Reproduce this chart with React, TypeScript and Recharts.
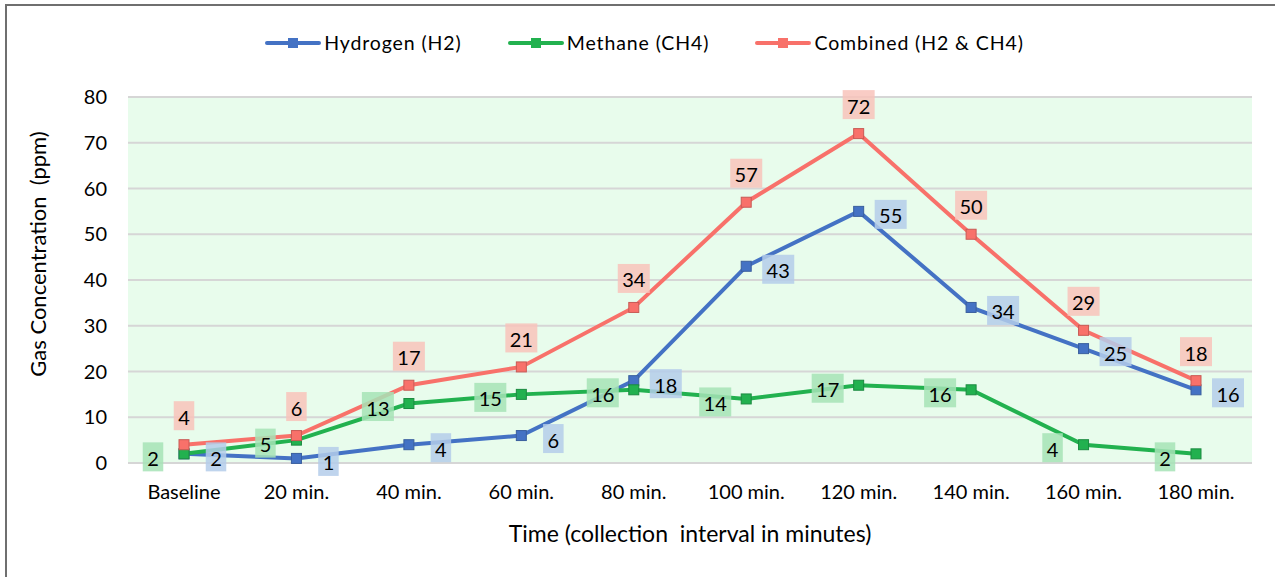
import React from 'react';
import { LineChart, Line, XAxis, YAxis, CartesianGrid, Legend, LabelList } from 'recharts';

const categories = ['Baseline', '20 min.', '40 min.', '60 min.', '80 min.', '100 min.', '120 min.', '140 min.', '160 min.', '180 min.'];
const hydrogen = [2, 1, 4, 6, 18, 43, 55, 34, 25, 16];
const methane = [2, 5, 13, 15, 16, 14, 17, 16, 4, 2];
const combined = [4, 6, 17, 21, 34, 57, 72, 50, 29, 18];
const yTicks = [0, 10, 20, 30, 40, 50, 60, 70, 80];

const data = categories.map((c, i) => ({ cat: c, h2: hydrogen[i], ch4: methane[i], comb: combined[i] }));

const FONT = 'Lato, "Open Sans", sans-serif';
const BLUE = '#4472c4';
const GREEN = '#22b14f';
const RED = '#f8716a';

const SquareDot = (color: string, stroke: string) => (props: any) => {
  const { cx, cy, index } = props;
  if (cx == null || cy == null) return null;
  return <rect key={index} x={cx - 5} y={cy - 5} width={10} height={10} fill={color} stroke={stroke} strokeWidth={1} />;
};

const BoxLabel = (bg: string, dx: number, dy: number) => (props: any) => {
  const { x, y, value, index } = props;
  if (x == null || y == null) return null;
  const s = String(value);
  const w = s.length * 11.5 + 9;
  const h = 29;
  const cx = x + dx;
  const cy = y + dy;
  return (
    <g key={index}>
      <rect x={cx - w / 2} y={cy - h / 2} width={w} height={h} fill={bg} opacity={0.85} />
      <text x={cx} y={cy + 1} textAnchor="middle" dominantBaseline="central" fontFamily={FONT} fontSize={20} fill="#000">{s}</text>
    </g>
  );
};

const YTitle = (props: any) => {
  const vb = props.viewBox || {};
  const x = (vb.x ?? 0) + 37;
  const y = (vb.y ?? 0) + (vb.height ?? 0) / 2 - 26;
  return (
    <text x={x} y={y} transform={`rotate(-90, ${x}, ${y})`} textAnchor="middle" dominantBaseline="central" fontFamily={FONT} fontSize={22} fill="#000">
      {'Gas Concentration\u00a0\u00a0(ppm)'}
    </text>
  );
};

const legendItems = [
  { name: 'Hydrogen (H2)', color: BLUE },
  { name: 'Methane (CH4)', color: GREEN },
  { name: 'Combined (H2 & CH4)', color: RED },
];

const LegendContent = () => (
  <div style={{ display: 'flex', justifyContent: 'center', gap: 46, fontFamily: FONT, fontSize: 19.5, letterSpacing: 0.9, color: '#000', marginLeft: 14 }}>
    {legendItems.map((it) => (
      <div key={it.name} style={{ display: 'flex', alignItems: 'center' }}>
        <svg width={56} height={12} style={{ marginRight: 3 }}>
          <line x1={2} y1={6} x2={54} y2={6} stroke={it.color} strokeWidth={4} strokeLinecap="round" />
          <rect x={23} y={1} width={10} height={10} fill={it.color} />
        </svg>
        <span>{it.name}</span>
      </div>
    ))}
  </div>
);

export default function App() {
  return (
    <div style={{ position: 'absolute', left: 0, top: 0, width: 1275, height: 577, background: '#fff', overflow: 'hidden' }}>
      <div style={{ position: 'absolute', left: 5, top: 4, width: 1300, height: 620, border: '2px solid #6f6f6f', boxSizing: 'border-box' }} />
      <div style={{ position: 'absolute', left: 0, top: 0 }}>
        <LineChart width={1275} height={577} data={data} margin={{ top: 74, right: 23, left: 0, bottom: 0 }}>
          <CartesianGrid vertical={false} stroke="#d6d6d6" strokeWidth={2} fill="#e8fcec" fillOpacity={1} />
          <XAxis
            dataKey="cat"
            height={114}
            padding={{ left: 56, right: 56 }}
            axisLine={false}
            tickLine={false}
            tickSize={0}
            tickMargin={22}
            interval={0}
            tick={{ fontFamily: FONT, fontSize: 20, fill: '#000' }}
            label={{ value: 'Time (collection\u00a0\u00a0interval in minutes)', position: 'insideTop', offset: 63, style: { fontFamily: FONT, fontSize: 23, fill: '#000' } }}
          />
          <YAxis
            width={128}
            domain={[0, 80]}
            ticks={yTicks}
            axisLine={false}
            tickLine={false}
            tickSize={0}
            tickMargin={21}
            tick={{ fontFamily: FONT, fontSize: 20, fill: '#000' }}
            label={<YTitle />}
          />
          <Legend verticalAlign="top" content={<LegendContent />} wrapperStyle={{ top: 31, left: 0, width: 1275 }} />
          <Line dataKey="h2" name="Hydrogen (H2)" stroke={BLUE} strokeWidth={4} dot={SquareDot(BLUE, '#3a5f9e')} activeDot={false} isAnimationActive={false} />
          <Line dataKey="ch4" name="Methane (CH4)" stroke={GREEN} strokeWidth={4} dot={SquareDot(GREEN, '#1b8a40')} activeDot={false} isAnimationActive={false} />
          <Line dataKey="comb" name="Combined (H2 & CH4)" stroke={RED} strokeWidth={4} dot={SquareDot(RED, '#c85a55')} activeDot={false} isAnimationActive={false} />
          <Line dataKey="h2" legendType="none" stroke="none" dot={false} activeDot={false} isAnimationActive={false}>
            <LabelList dataKey="h2" content={BoxLabel('#b4cdea', 32, 3)} />
          </Line>
          <Line dataKey="ch4" legendType="none" stroke="none" dot={false} activeDot={false} isAnimationActive={false}>
            <LabelList dataKey="ch4" content={BoxLabel('#a6e3b6', -31, 3)} />
          </Line>
          <Line dataKey="comb" legendType="none" stroke="none" dot={false} activeDot={false} isAnimationActive={false}>
            <LabelList dataKey="comb" content={BoxLabel('#f8c3bb', 0, -29)} />
          </Line>
        </LineChart>
      </div>
    </div>
  );
}
